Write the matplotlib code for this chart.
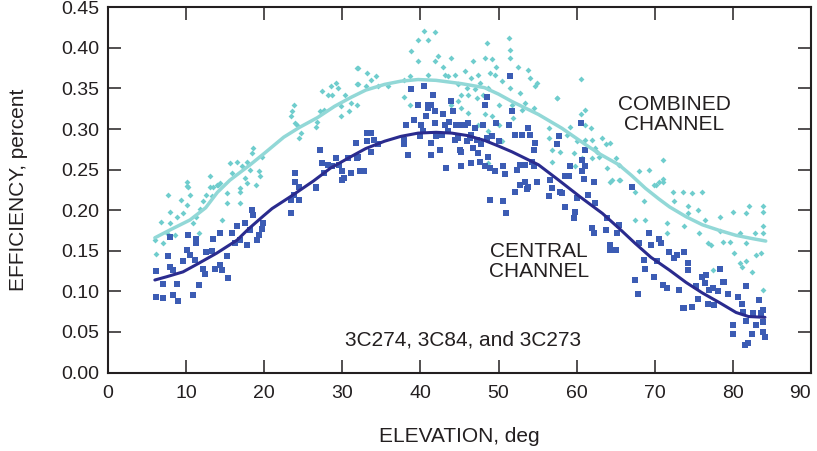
import matplotlib
matplotlib.use("Agg")
import matplotlib.pyplot as plt
import numpy as np

# ---- Data ----
central_elev = [
    6.1, 6.2, 7.0, 7.1, 8.3, 9.0, 10.9, 8.8, 7.7, 7.9, 8.3, 9.6, 10.1, 10.5, 11.1, 11.3, 11.6, 12.2, 12.4, 12.6,
    13.3, 13.5, 13.7, 14.3, 14.6, 15.2, 15.4, 15.9, 16.3, 16.5, 16.9, 17.6, 17.8, 18.2, 18.4, 18.6, 19.1, 19.3, 19.7, 19.9,
    14.3, 10.3, 11.3, 23.4, 24.4, 23.4, 23.8, 24.0, 26.6, 30.0, 7.9,
    27.2, 27.4, 28.1, 28.7, 29.2, 29.6, 30.0, 30.2, 30.7, 31.1, 31.7, 32.0, 32.2, 24.0, 24.0, 24.4, 26.6, 27.7,
    31.7, 31.9, 32.8, 33.2, 33.7, 33.2, 33.7, 34.1, 34.5, 37.9, 38.2, 38.4, 38.8, 39.2, 39.7, 39.9, 40.1, 40.3, 40.5, 40.7,
    41.0, 41.4, 41.4, 41.6, 41.8, 42.0, 42.5, 42.9, 43.1, 43.5, 43.7, 43.9, 44.2, 44.4, 44.6, 44.8, 45.0, 45.2, 45.7, 45.9,
    46.1, 46.3, 46.5, 46.7, 47.0, 47.2, 47.4, 47.6, 47.8, 48.0, 48.2, 48.5, 48.5, 48.7, 48.9, 49.1, 49.5, 49.7, 50.0, 50.6,
    50.8, 51.3, 51.5, 51.7, 52.1, 52.3, 52.8, 53.0, 53.4, 53.8, 54.0, 54.3, 54.5, 54.7, 53.4, 53.8, 54.9, 56.6, 56.8, 54.5,
    37.9, 41.4, 41.0, 43.3, 45.2, 46.5, 48.2, 42.7, 45.0, 41.8,
    48.9, 50.6, 51.0, 52.1, 52.8, 53.4, 53.6, 54.9, 56.4, 56.8, 57.9,
    57.5, 57.7, 60.5, 61.1, 60.7, 61.1, 59.2, 59.0, 60.7, 60.9, 62.2, 58.5,
    58.1, 58.5, 59.6, 59.8, 60.0, 61.5, 62.0, 62.2, 62.4, 63.7, 63.9, 64.3, 64.3, 65.0, 65.2, 65.4, 67.5, 67.8, 68.0, 68.6,
    68.8, 69.3, 69.5, 69.9, 70.3, 70.6, 70.8, 71.0, 71.6, 71.8, 72.5, 72.9, 73.1, 73.8, 73.8, 74.2, 74.2, 74.8, 75.3, 75.5,
    76.1, 76.4, 76.6, 76.8, 77.0, 77.4, 77.6, 78.1, 78.3, 78.7, 78.9, 79.4, 80.6, 81.1, 81.7, 80.0, 80.0, 81.3, 81.7, 82.4,
    82.6, 83.0, 83.4, 83.6, 83.9, 83.9, 83.9, 84.1, 81.9, 67.1, 62.2, 81.5, 73.6,
]
central_eff = [
    0.125, 0.093, 0.092, 0.109, 0.095, 0.088, 0.096, 0.109, 0.143, 0.130, 0.126, 0.137, 0.151, 0.145, 0.139, 0.159, 0.108, 0.128, 0.121, 0.149,
    0.150, 0.164, 0.128, 0.132, 0.126, 0.143, 0.116, 0.172, 0.159, 0.180, 0.163, 0.184, 0.157, 0.176, 0.200, 0.194, 0.163, 0.170, 0.177, 0.184,
    0.172, 0.170, 0.164, 0.196, 0.212, 0.213, 0.219, 0.235, 0.227, 0.237, 0.167,
    0.274, 0.258, 0.256, 0.254, 0.264, 0.256, 0.248, 0.240, 0.264, 0.246, 0.283, 0.266, 0.248, 0.246, 0.235, 0.229, 0.229, 0.246,
    0.283, 0.264, 0.248, 0.295, 0.295, 0.285, 0.272, 0.287, 0.281, 0.287, 0.305, 0.268, 0.349, 0.311, 0.330, 0.291, 0.305, 0.297, 0.353, 0.316,
    0.330, 0.283, 0.268, 0.342, 0.307, 0.291, 0.274, 0.318, 0.305, 0.297, 0.309, 0.334, 0.322, 0.287, 0.305, 0.289, 0.274, 0.272, 0.305, 0.285,
    0.307, 0.289, 0.293, 0.277, 0.301, 0.287, 0.270, 0.260, 0.281, 0.305, 0.330, 0.340, 0.289, 0.266, 0.252, 0.291, 0.248, 0.307, 0.285, 0.254,
    0.244, 0.305, 0.365, 0.322, 0.293, 0.250, 0.256, 0.293, 0.256, 0.301, 0.293, 0.260, 0.254, 0.283, 0.235, 0.229, 0.235, 0.237, 0.227, 0.274,
    0.281, 0.330, 0.326, 0.252, 0.254, 0.258, 0.254, 0.293, 0.305, 0.322,
    0.212, 0.211, 0.196, 0.222, 0.231, 0.235, 0.226, 0.235, 0.217, 0.227, 0.223,
    0.281, 0.291, 0.307, 0.274, 0.262, 0.254, 0.254, 0.242, 0.248, 0.239, 0.235, 0.242,
    0.221, 0.204, 0.190, 0.198, 0.215, 0.219, 0.178, 0.172, 0.209, 0.176, 0.190, 0.157, 0.151, 0.151, 0.172, 0.182, 0.114, 0.097, 0.159, 0.139,
    0.128, 0.172, 0.157, 0.118, 0.137, 0.165, 0.159, 0.108, 0.104, 0.149, 0.141, 0.145, 0.102, 0.149, 0.079, 0.135, 0.126, 0.081, 0.106, 0.091,
    0.118, 0.110, 0.120, 0.085, 0.102, 0.104, 0.083, 0.100, 0.128, 0.112, 0.112, 0.097, 0.093, 0.085, 0.106, 0.058, 0.048, 0.075, 0.064, 0.048,
    0.073, 0.058, 0.089, 0.073, 0.077, 0.062, 0.050, 0.044, 0.036, 0.229, 0.235, 0.034, 0.079,
]

combined_elev = [
    6.0, 6.2, 7.0, 6.8, 7.5, 7.7, 7.9, 8.6, 8.8, 9.4, 9.6, 10.1, 10.5, 10.9, 11.3, 11.8, 12.2, 12.6, 13.1, 13.3,
    13.9, 14.3, 14.6, 15.2, 15.2, 16.9, 16.9, 17.8, 18.9, 10.1, 11.6, 7.9,
    10.1, 10.3, 13.1, 13.5, 14.1, 15.6, 15.9, 16.5, 17.1, 17.6, 17.8, 18.2, 18.4, 18.6, 19.3, 19.5, 19.7, 16.9,
    23.4, 23.6, 23.8, 24.2, 24.4, 24.0, 24.7, 26.6, 26.8, 27.2, 27.7, 27.4, 28.1, 28.5, 28.7, 29.2, 29.4, 29.8, 29.8, 30.4,
    30.9, 31.1, 32.0, 32.0,
    31.9, 31.9, 33.0, 33.2, 33.7, 34.3, 34.5, 35.8, 37.9, 38.6, 38.8, 39.7, 39.7, 40.5, 41.0, 41.8, 41.0, 41.8, 42.2, 42.9,
    43.1, 43.5, 43.9, 44.4, 44.8, 45.2, 45.7, 45.9, 46.1, 46.5, 46.7, 47.0, 47.2, 47.4, 47.6, 48.0, 48.2, 48.5, 48.7, 48.9,
    49.1, 49.5, 49.7, 50.0, 50.4, 51.3, 51.5, 51.5, 51.5, 51.7, 51.9, 52.5, 52.8, 53.0, 53.4, 53.8, 54.0, 54.5, 54.7, 54.9,
    56.4, 56.4, 56.8, 56.8, 57.5, 37.9, 38.6, 43.9, 44.8, 45.2, 46.1, 47.4, 48.2, 48.7, 49.1, 50.0, 50.4, 48.7, 31.9,
    57.5, 60.5, 61.1, 60.5, 60.0, 59.2, 58.8, 59.6, 59.8, 60.7, 61.1, 61.8, 62.0, 62.4, 62.8, 63.3, 63.7, 63.9, 64.3, 64.5,
    65.0, 65.4, 65.6, 68.0, 69.3, 71.0, 71.0, 71.0, 70.1, 57.9, 61.1, 62.0, 62.6,
    64.3, 65.4, 67.5, 68.6, 67.5, 68.8, 69.9, 70.6, 71.6, 71.6, 72.3, 72.5, 73.6, 73.8, 74.2, 74.2, 74.8, 75.5, 75.7, 76.1,
    76.4, 76.8, 77.2, 78.3, 78.3, 78.7, 79.6, 80.0, 80.2, 80.9, 81.1, 81.7, 81.7, 81.7, 82.1, 82.4, 82.8, 83.0, 83.6, 83.9,
    83.9, 83.9, 83.9, 83.9, 80.9, 77.4,
]
combined_eff = [
    0.163, 0.146, 0.159, 0.186, 0.172, 0.219, 0.198, 0.170, 0.192, 0.213, 0.196, 0.207, 0.219, 0.184, 0.192, 0.202, 0.211, 0.219, 0.229, 0.217,
    0.231, 0.233, 0.188, 0.209, 0.221, 0.223, 0.209, 0.233, 0.231, 0.230, 0.172, 0.184,
    0.235, 0.229, 0.242, 0.229, 0.231, 0.258, 0.246, 0.260, 0.254, 0.240, 0.260, 0.250, 0.270, 0.277, 0.248, 0.242, 0.266, 0.227,
    0.316, 0.322, 0.330, 0.305, 0.289, 0.307, 0.295, 0.303, 0.309, 0.322, 0.324, 0.347, 0.342, 0.353, 0.342, 0.357, 0.351, 0.328, 0.316, 0.342,
    0.322, 0.332, 0.375, 0.355,
    0.375, 0.355, 0.353, 0.369, 0.361, 0.365, 0.353, 0.353, 0.361, 0.365, 0.396, 0.384, 0.410, 0.421, 0.410, 0.419, 0.367, 0.384, 0.390, 0.377,
    0.367, 0.365, 0.388, 0.367, 0.355, 0.342, 0.371, 0.351, 0.342, 0.363, 0.384, 0.349, 0.338, 0.367, 0.357, 0.342, 0.388, 0.406, 0.351, 0.369,
    0.386, 0.367, 0.377, 0.330, 0.359, 0.412, 0.398, 0.388, 0.351, 0.330, 0.314, 0.377, 0.344, 0.324, 0.332, 0.373, 0.363, 0.326, 0.353, 0.357,
    0.301, 0.289, 0.274, 0.260, 0.338, 0.340, 0.330, 0.330, 0.334, 0.326, 0.320, 0.305, 0.318, 0.297, 0.316, 0.305, 0.285, 0.258, 0.330,
    0.338, 0.362, 0.324, 0.318, 0.285, 0.303, 0.293, 0.270, 0.254, 0.264, 0.287, 0.301, 0.287, 0.277, 0.266, 0.289, 0.281, 0.252, 0.283, 0.237,
    0.264, 0.256, 0.237, 0.248, 0.250, 0.262, 0.239, 0.235, 0.231, 0.272, 0.305, 0.264, 0.272,
    0.235, 0.237, 0.223, 0.211, 0.188, 0.188, 0.231, 0.235, 0.184, 0.172, 0.223, 0.211, 0.223, 0.180, 0.205, 0.196, 0.221, 0.200, 0.172, 0.223,
    0.188, 0.159, 0.157, 0.192, 0.174, 0.161, 0.161, 0.198, 0.147, 0.172, 0.130, 0.196, 0.159, 0.137, 0.205, 0.124, 0.172, 0.145, 0.147, 0.198,
    0.180, 0.172, 0.205, 0.102, 0.135, 0.126,
]

# Fitted (smoothed) curves
combined_fit_elev = [6.0, 8.0, 10.5, 12.5, 14.0, 15.6, 18.2, 20.0, 22.5, 24.5, 26.8, 29.0, 31.1, 33.0, 35.4, 37.5,
                     39.7, 42.0, 45.2, 48.2, 50.0, 51.7, 55.1, 58.1, 61.1, 63.0, 65.4, 67.0, 68.8, 70.5, 71.9, 74.0,
                     76.1, 78.3, 80.4, 82.5, 84.2]
combined_fit_eff = [0.166, 0.176, 0.188, 0.203, 0.222, 0.237, 0.256, 0.270, 0.290, 0.302, 0.314, 0.328, 0.339, 0.348,
                    0.355, 0.359, 0.361, 0.360, 0.356, 0.351, 0.343, 0.334, 0.318, 0.301, 0.281, 0.269, 0.256, 0.243,
                    0.227, 0.214, 0.204, 0.192, 0.182, 0.175, 0.169, 0.165, 0.162]
central_fit_elev = [6.0, 7.5, 9.6, 11.5, 13.9, 16.5, 18.0, 19.9, 21.0, 23.4, 26.3, 28.5, 31.1, 33.0, 35.4, 37.5, 39.7,
                    42.0, 44.0, 46.0, 48.2, 50.0, 51.7, 55.1, 57.7, 60.5, 63.3, 65.5, 67.5, 69.5, 71.9, 74.0, 76.1,
                    78.3, 80.4, 82.0, 84.1]
central_fit_eff = [0.114, 0.118, 0.124, 0.134, 0.147, 0.163, 0.177, 0.193, 0.202, 0.217, 0.236, 0.252, 0.266, 0.276,
                   0.285, 0.291, 0.295, 0.296, 0.295, 0.292, 0.286, 0.279, 0.272, 0.256, 0.237, 0.216, 0.196, 0.177,
                   0.159, 0.142, 0.126, 0.111, 0.098, 0.086, 0.074, 0.069, 0.068]

x_ticks = [0, 10, 20, 30, 40, 50, 60, 70, 80, 90]
y_ticks = [0.00, 0.05, 0.10, 0.15, 0.20, 0.25, 0.30, 0.35, 0.40, 0.45]

# ---- Style ----
plt.rcParams['font.family'] = ['Liberation Sans', 'DejaVu Sans']
text_color = '#231f20'
c_cent_pts = '#3c5cb4'
c_cent_line = '#2a2b8e'
c_comb_pts = '#6fcdcd'
c_comb_line = '#92d8d7'

fig = plt.figure(figsize=(8.17, 4.51), dpi=100)
ax = fig.add_axes([0.1322, 0.1740, 0.8605, 0.8098])

ax.plot(combined_elev, combined_eff, linestyle='none', marker='D', markersize=3.0,
        color=c_comb_pts, markeredgewidth=0)
ax.plot(central_elev, central_eff, linestyle='none', marker='s', markersize=4.2,
        color=c_cent_pts, markeredgewidth=0)
ax.plot(combined_fit_elev, combined_fit_eff, color=c_comb_line, linewidth=2.5, solid_capstyle='round')
ax.plot(central_fit_elev, central_fit_eff, color=c_cent_line, linewidth=2.2, solid_capstyle='round')

ax.set_xlim(0, 90)
ax.set_ylim(0, 0.45)
ax.set_xticks(x_ticks)
ax.set_yticks(y_ticks)
ax.set_xticklabels([str(v) for v in x_ticks])
ax.set_yticklabels([f"{v:.2f}" for v in y_ticks])

for s in ax.spines.values():
    s.set_linewidth(1.5)
    s.set_color(text_color)
ax.tick_params(direction='in', length=9.5, width=1.1, color=text_color,
               top=True, right=True, labelsize=14, labelcolor=text_color)
ax.tick_params(axis='x', pad=9)
ax.tick_params(axis='y', pad=6)
# keep the last x tick label inside the figure
ax.get_xticklabels()[-1].set_horizontalalignment('right')

ax.text(72.5, 0.318, "COMBINED\nCHANNEL", ha='center', va='center', fontsize=15,
        color=text_color, linespacing=1.08)
ax.text(55.2, 0.137, "CENTRAL\nCHANNEL", ha='center', va='center', fontsize=15,
        color=text_color, linespacing=1.08)
ax.text(45.4, 0.040, "3C274, 3C84, and 3C273", ha='center', va='center', fontsize=15,
        color=text_color)

fig.text(459.5 / 817, 1 - 437 / 451, "ELEVATION, deg", ha='center', va='center',
         fontsize=15, color=text_color)
fig.text(19 / 817, 1 - 190 / 451, "EFFICIENCY, percent", ha='center', va='center',
         rotation=90, fontsize=15, color=text_color)

fig.savefig("out.png", dpi=100)
